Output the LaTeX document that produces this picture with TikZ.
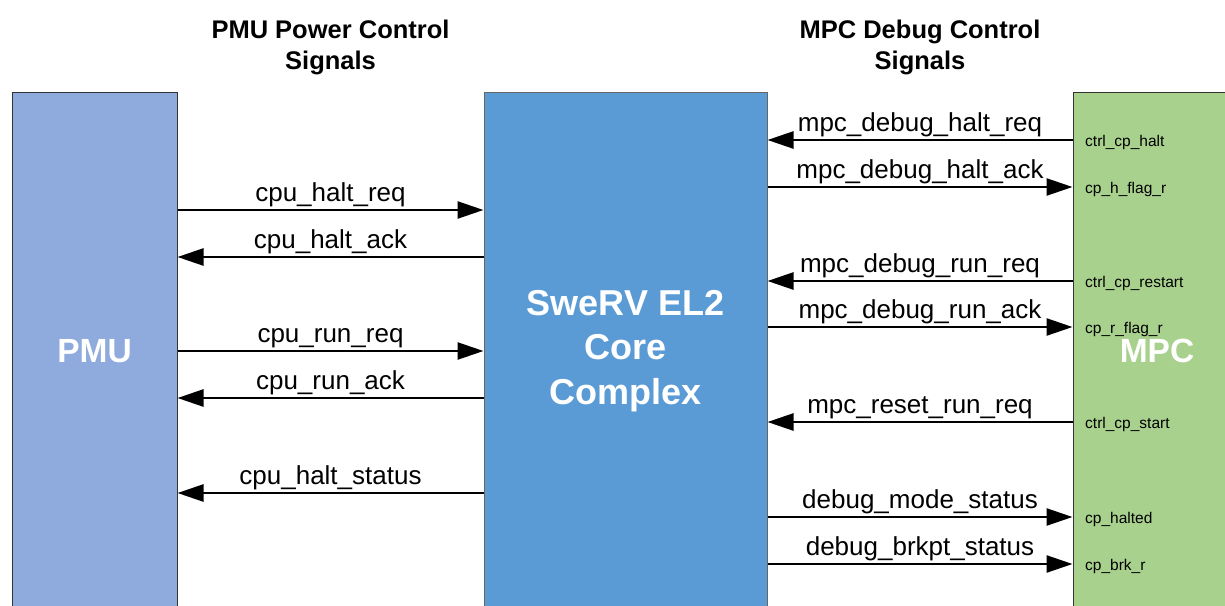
\documentclass[tikz,border=0pt]{standalone}
\usepackage{fontspec}
\setmainfont{Liberation Sans}
\usetikzlibrary{arrows.meta}
\definecolor{pmublue}{HTML}{8FAADC}
\definecolor{coreblue}{HTML}{5B9BD5}
\definecolor{mpcgreen}{HTML}{A9D18E}
\begin{document}
\begin{tikzpicture}[x=1pt, y=-1pt]
 \tikzset{block/.style={draw, line width=1pt, minimum height=518pt, inner sep=0pt, text=white, align=center}}
 \tikzset{sig/.style={line width=2.5pt, -{Triangle[length=26pt,width=17pt]}}}
 \tikzset{lbl/.style={midway, anchor=base, yshift=9pt, inner sep=0pt, font=\fontsize{26}{30}\selectfont}}
 \tikzset{pinlbl/.style={anchor=west, inner sep=0pt, yshift=-2pt, font=\fontsize{15.5}{18}\selectfont}}
 \tikzset{head/.style={align=center, inner sep=0pt, font=\bfseries\fontsize{25.5}{31}\selectfont}}
  \useasboundingbox (0,0) rectangle (1225,605);
  \node[head] (pmuhead) at (330.5,47) {PMU Power Control\\Signals};
  \node[head] (mpchead) at (920,47) {MPC Debug Control\\Signals};
  \node[block, fill=pmublue, draw=black!80, minimum width=165pt, font=\bfseries\fontsize{33.5}{40}\selectfont] (pmu) at (94.5,351) {PMU};
  \node[block, fill=coreblue, draw=black!60, minimum width=283pt, font=\bfseries\fontsize{36}{44.5}\selectfont] (core) at (625.5,351) {SweRV EL2\\Core\\Complex};
  \node[block, fill=mpcgreen, draw=black!80, minimum width=168pt, font=\bfseries\fontsize{33.5}{40}\selectfont] (mpc) at (1157,351) {MPC};
  \draw[sig] (pmu.east |- 0,210) -- node[lbl] {cpu\_halt\_req} (core.west |- 0,210);
  \draw[sig] (core.west |- 0,257) -- node[lbl] {cpu\_halt\_ack} (pmu.east |- 0,257);
  \draw[sig] (pmu.east |- 0,351) -- node[lbl] {cpu\_run\_req} (core.west |- 0,351);
  \draw[sig] (core.west |- 0,398) -- node[lbl] {cpu\_run\_ack} (pmu.east |- 0,398);
  \draw[sig] (core.west |- 0,493) -- node[lbl] {cpu\_halt\_status} (pmu.east |- 0,493);
  \draw[sig] (mpc.west |- 0,140) -- node[lbl] {mpc\_debug\_halt\_req} (core.east |- 0,140);
  \draw[sig] (core.east |- 0,187) -- node[lbl] {mpc\_debug\_halt\_ack} (mpc.west |- 0,187);
  \draw[sig] (mpc.west |- 0,281) -- node[lbl] {mpc\_debug\_run\_req} (core.east |- 0,281);
  \draw[sig] (core.east |- 0,327) -- node[lbl] {mpc\_debug\_run\_ack} (mpc.west |- 0,327);
  \draw[sig] (mpc.west |- 0,422) -- node[lbl] {mpc\_reset\_run\_req} (core.east |- 0,422);
  \draw[sig] (core.east |- 0,517) -- node[lbl] {debug\_mode\_status} (mpc.west |- 0,517);
  \draw[sig] (core.east |- 0,564) -- node[lbl] {debug\_brkpt\_status} (mpc.west |- 0,564);
  \node[pinlbl] (p1) at (1085,140) {ctrl\_cp\_halt};
  \node[pinlbl] (p2) at (1085,187) {cp\_h\_flag\_r};
  \node[pinlbl] (p3) at (1085,281) {ctrl\_cp\_restart};
  \node[pinlbl] (p4) at (1085,327) {cp\_r\_flag\_r};
  \node[pinlbl] (p5) at (1085,422) {ctrl\_cp\_start};
  \node[pinlbl] (p6) at (1085,517) {cp\_halted};
  \node[pinlbl] (p7) at (1085,564) {cp\_brk\_r};
\end{tikzpicture}
\end{document}
